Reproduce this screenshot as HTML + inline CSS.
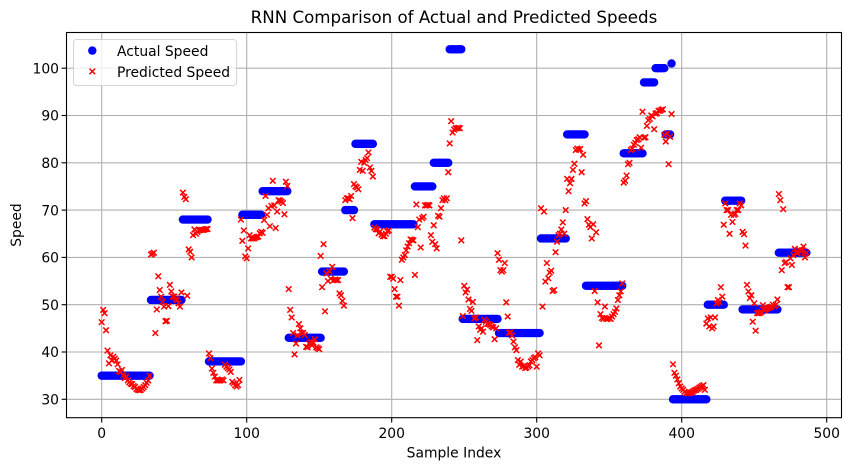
<!DOCTYPE html>
<html>
<head>
<meta charset="utf-8">
<style>
html,body{margin:0;padding:0;background:#fff;}
svg{display:block;}
text{font-family:"DejaVu Sans","Liberation Sans",sans-serif;fill:#000;}
</style>
</head>
<body>
<svg id="chart" xmlns="http://www.w3.org/2000/svg" width="850" height="470" viewBox="0 0 850 470">
<rect x="0" y="0" width="850" height="470" fill="#fff"/>
<g id="grid"></g>
<g id="actual"></g>
<g id="predicted"></g>
<rect x="66.5" y="32.5" width="775" height="385.2" fill="none" stroke="#000" stroke-width="1.1"/>
<g id="ticks"></g>
<text x="454" y="23" font-size="16.67" text-anchor="middle">RNN Comparison of Actual and Predicted Speeds</text>
<text x="454" y="457.5" font-size="13.89" text-anchor="middle">Sample Index</text>
<text x="0" y="0" font-size="13.89" text-anchor="middle" transform="translate(21,225) rotate(-90)">Speed</text>
<g>
<rect x="73.5" y="39.5" width="163" height="46" rx="3" ry="3" fill="#fff" fill-opacity="0.8" stroke="#ccc" stroke-opacity="0.8" stroke-width="1.1"/>
<circle cx="92.3" cy="50.6" r="4.2" fill="#0000ff"/>
<path d="M89.5 68.6L95.1 74.2M95.1 68.6L89.5 74.2" stroke="#ff0000" stroke-width="1.5" fill="none"/>
<text x="117" y="56" font-size="13.89">Actual Speed</text>
<text x="117" y="77" font-size="13.89">Predicted Speed</text>
</g>
</svg>
<script>
const xTickValues = [0, 100, 200, 300, 400, 500];
const yTickValues = [30, 40, 50, 60, 70, 80, 90, 100];
const actualLevels = [35, 51, 68, 38, 69, 74, 43, 57, 70, 84, 67, 75, 80, 104, 47, 44, 64, 86, 54, 82, 97, 100, 86, 101, 30, 50, 72, 49, 61];
const actualRunLengths = [34, 22, 18, 23, 14, 18, 23, 16, 7, 13, 28, 13, 11, 9, 25, 29, 18, 13, 26, 14, 8, 7, 4, 1, 24, 12, 12, 25, 20];
const predictedSpeed = [
46.3,48.9,48.2,44.6,40.3,37.6,39.3,38.2,39,38.6,
38.2,37.4,36,35.8,36.2,35,34.5,34.8,34,33.6,
33.3,33.2,32.8,32.6,32.2,32,31.9,32,32.3,32.6,
33,33.5,34,35,60.6,60.8,61,44,49,56,
53.1,51.7,50.6,49.6,46.5,46.6,49.7,54.2,52.8,51.7,
51.7,51.3,51,50.3,49.6,52.6,73.7,72.8,72.3,51.9,
61.7,61.2,60,64.7,65.9,65,65.4,65.7,65.8,65.8,
65.8,65.9,66,66,39.7,38.7,36.5,35.6,34.8,34,
34,34,34,34.2,34,37.3,36.9,36.6,36.3,35.8,
33.7,33.4,33,32.7,33,34.1,68,63.5,65.7,60.2,
59.8,61.9,64.7,64,64,64,64.2,64.3,64.4,65.1,
65.4,65.2,67.9,73,69,70.4,66.6,70.9,76.2,71,
66.2,69.7,72.1,72,71.8,71.5,69.1,76,75.1,53.3,
48.9,47.3,44,39.5,41.8,43.5,45.9,45,44,44,
43.6,41.1,41,41.8,42.2,41.4,42,42.7,41,40.8,
40.6,60.3,53.7,62.8,48.6,56.6,55,57,55.5,58,
55.2,55.3,55.2,55.2,52.4,52,50.8,49.8,72.1,72.5,
72.5,72.3,73,68.3,75.5,75,74.8,74.4,78.5,80.2,
78.3,80,80.6,81,82.2,79,78.3,77.1,66.3,66,
65.9,65.1,65.5,64.8,64.5,64.5,65,65.5,65.7,55.9,
55.9,55.5,53.3,51.7,51.7,49.8,55.2,59.5,60,60.5,
61.5,62.3,63,63.8,63.7,63.6,56.3,71.2,66.4,68,
62.1,68.3,68.6,71,71,71.1,71,64.7,63.3,66.8,
62.8,61.9,68.8,68.6,70.4,72.1,72.5,72.1,72.5,78,
84.1,88.8,86.4,87,87.3,87.3,87.4,87.3,63.6,47.6,
54,52.6,53.2,51.1,49.1,48.7,50.6,47.1,47.3,42.5,
45.4,44.7,45,44.3,46.8,46.4,46,45.9,45.7,45.4,
45.2,42.7,45,60.9,59.5,57.3,57,57.3,58.8,50.5,
47.5,44.1,44.1,43.5,42.2,41,40.4,38.3,37.3,38,
36.9,37,36.6,36.7,37,37.2,38,38.3,38.7,38.9,
36.9,39.7,39.3,70.4,49.6,69.7,54.9,58.8,55.6,56.8,
57.2,52.9,53.1,61.1,63.3,64.7,65,65.9,67.4,65,
70,76.6,74,75.7,76.6,78.5,79.8,82.7,83,82.8,
82.9,78,81.7,71.4,71.9,68.1,66.9,66.4,64,67,
52.9,65.3,50.5,41.4,48,47.2,47,49.6,47,47,
47.2,47,47.5,48,48.5,49.2,51,52,52.8,54.5,
75.8,76.2,77.3,79.7,80,82.7,83,83.8,84.2,84.8,
85,85.4,83.2,90.8,85.3,85.4,87.8,89,89.3,90,
89.8,87.1,90.4,90.5,91,91,91.2,91.3,85.9,84.5,
86.2,79.7,85.5,90.3,37.4,35.6,35,34.2,33.4,32.7,
32.3,32,31.6,31.3,31.3,31.3,31.4,31.5,31.7,31.9,
32,32.2,32.4,32.6,32.8,33,32,46,47.1,45.4,
47.3,45,45.4,47.3,50.3,51,50.5,53.7,51.7,66.9,
71.4,70,70,65,69,67.5,69,69.2,70,70,
71.4,71,65.4,64.9,62.5,54.2,52.8,51.4,52,46.4,
50.3,44.5,48.2,48.2,48.3,48.5,49.9,48.8,49,49.2,
49.3,49.5,49.6,50,49.7,50,51.1,73.4,72.1,57.3,
70.2,58.8,59,53.7,53.7,59.8,58.4,60.5,61.8,61,
61,61.6,61.3,61.5,62.3,60,61
];

const SVG_NS = 'http://www.w3.org/2000/svg';
function xScale(i) { return 101.7 + 1.45 * i; }
function yScale(v) { return 399.3 - 4.73 * (v - 30); }
function make(tag, attrs, parent) {
  const el = document.createElementNS(SVG_NS, tag);
  for (const k in attrs) el.setAttribute(k, attrs[k]);
  parent.appendChild(el);
  return el;
}
const gridG = document.getElementById('grid');
const ticksG = document.getElementById('ticks');
const actualG = document.getElementById('actual');
const predictedG = document.getElementById('predicted');
const lineStyle = { stroke: '#b0b0b0', 'stroke-width': 1.1 };

xTickValues.forEach(function (t) {
  const x = xScale(t);
  const gl = make('line', Object.assign({ x1: x, x2: x, y1: 32.5, y2: 417.7 }, lineStyle), gridG);
  
  
  const tk = make('line', { x1: x, x2: x, y1: 417.7, y2: 422.6, stroke: '#000', 'stroke-width': 1.1 }, ticksG);
  
  
  const lb = make('text', { x: x, y: 438, 'font-size': 13.89, 'text-anchor': 'middle' }, ticksG);
  
  
  lb.textContent = String(t);
});
yTickValues.forEach(function (t) {
  const y = yScale(t);
  const gl = make('line', Object.assign({ x1: 66.5, x2: 841.5, y1: y, y2: y }, lineStyle), gridG);
  
  
  const tk = make('line', { x1: 61.6, x2: 66.5, y1: y, y2: y, stroke: '#000', 'stroke-width': 1.1 }, ticksG);
  
  
  const lb = make('text', { x: 59, y: y + 5.2, 'font-size': 13.89, 'text-anchor': 'end' }, ticksG);
  
  
  lb.textContent = String(t);
});
let sampleIndex = 0;
actualLevels.forEach(function (level, run) {
  for (let n = 0; n < actualRunLengths[run]; n++) {
    const c = make('circle', { cx: xScale(sampleIndex), cy: yScale(level), r: 4.2, fill: '#0000ff' }, actualG);
    
    
    sampleIndex++;
  }
});
predictedSpeed.forEach(function (v, i) {
  const x = xScale(i), y = yScale(v), h = 2.8;
  const p = make('path', {
    d: 'M' + (x - h) + ' ' + (y - h) + 'L' + (x + h) + ' ' + (y + h) + 'M' + (x + h) + ' ' + (y - h) + 'L' + (x - h) + ' ' + (y + h),
    stroke: '#ff0000', 'stroke-width': 1.5, fill: 'none'
  }, predictedG);
  
  
});
</script>
</body>
</html>
